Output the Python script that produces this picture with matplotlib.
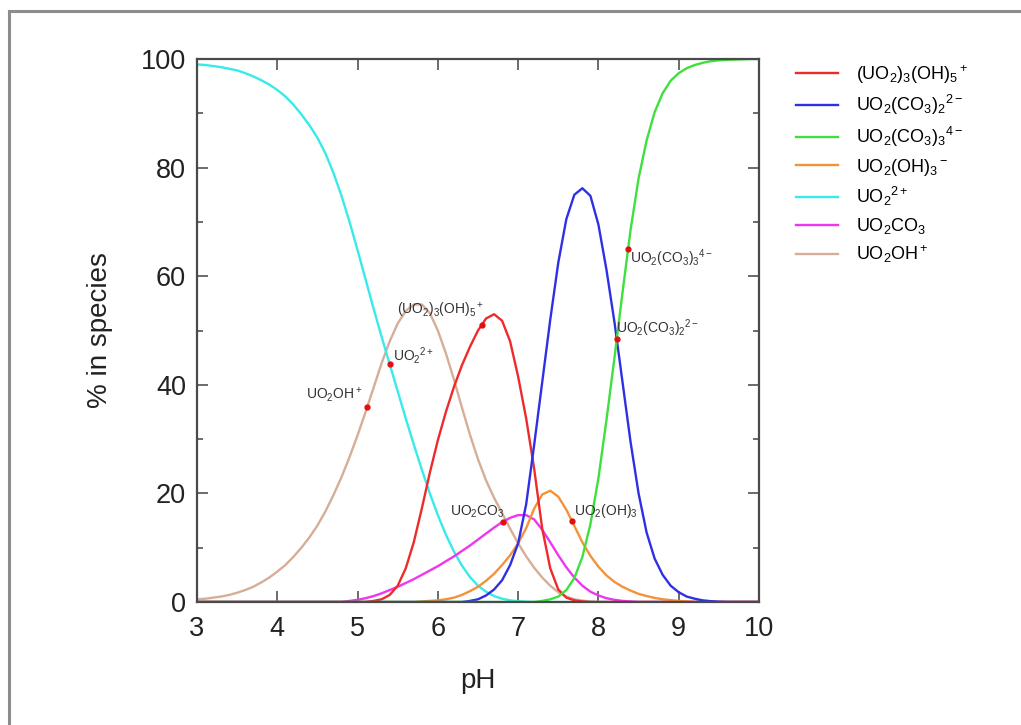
import numpy as np
import matplotlib
matplotlib.use("Agg")
import matplotlib.pyplot as plt
from matplotlib.lines import Line2D
from matplotlib.ticker import MultipleLocator

plt.rcParams['font.family'] = ['Liberation Sans', 'DejaVu Sans']
plt.rcParams['mathtext.fontset'] = 'custom'
plt.rcParams['mathtext.rm'] = 'Liberation Sans'
plt.rcParams['mathtext.it'] = 'Liberation Sans:italic'
plt.rcParams['mathtext.bf'] = 'Liberation Sans:bold'
plt.rcParams['mathtext.default'] = 'regular'

# pH grid 3.0 ... 10.0, step 0.1 (71 points)
ph = np.round(np.linspace(3.0, 10.0, 71), 1)

# % in species at each pH of the grid
trimer = [0] * 22 + [
    0.2, 0.5, 1.3, 3.0, 6.2, 11.0, 17.2, 23.8,             # 5.2-5.9
    29.8, 35.0, 39.6, 43.6, 47.0, 50.0, 52.2, 53.0, 51.8, 48.0,  # 6.0-6.9
    41.5, 33.8, 24.5, 13.5, 6.2, 2.3, 0.8, 0.3, 0.1, 0,    # 7.0-7.9
] + [0] * 21

dicarb = [0] * 34 + [
    0.2, 0.5, 1.2, 2.3, 4.0, 6.8,                          # 6.4-6.9
    10.8, 18.0, 29.0, 40.5, 52.0, 62.5, 70.5, 75.0, 76.2, 74.8,  # 7.0-7.9
    69.5, 61.2, 51.5, 40.5, 29.5, 20.0, 12.8, 8.0, 5.0, 3.0,     # 8.0-8.9
    1.8, 1.0, 0.6, 0.3, 0.15, 0.05, 0, 0, 0, 0,            # 9.0-9.9
    0,
]

tricarb = [0] * 43 + [
    0.2, 0.5, 1.0, 2.2, 4.4, 8.3, 14.3,                    # 7.3-7.9
    22.8, 33.5, 45.0, 57.0, 68.5, 78.0, 85.0, 90.2, 93.7, 96.0,  # 8.0-8.9
    97.4, 98.3, 98.9, 99.3, 99.6, 99.75, 99.85, 99.9, 99.95, 100.0,  # 9.0-9.9
    100.0,
]

trihydroxo = [0] * 28 + [
    0.1, 0.2,                                              # 5.8-5.9
    0.3, 0.5, 0.8, 1.3, 2.0, 2.8, 3.9, 5.2, 6.8, 8.6,      # 6.0-6.9
    10.8, 13.6, 17.2, 19.8, 20.5, 19.4, 17.0, 14.0, 11.0, 8.5,   # 7.0-7.9
    6.5, 4.9, 3.7, 2.8, 2.1, 1.5, 1.1, 0.75, 0.5, 0.35,    # 8.0-8.9
    0.2, 0.1, 0, 0, 0, 0, 0, 0, 0, 0,                      # 9.0-9.9
    0,
]

uranyl = [
    99.0, 98.9, 98.7, 98.5, 98.2, 97.9, 97.4, 96.8, 96.1, 95.3,  # 3.0-3.9
    94.3, 93.1, 91.6, 89.8, 87.8, 85.5, 82.6, 79.0, 74.8, 70.0,  # 4.0-4.9
    64.8, 59.4, 54.0, 48.8, 43.8, 38.8, 33.8, 29.0, 24.4, 20.0,  # 5.0-5.9
    16.0, 12.4, 9.3, 6.7, 4.6, 3.0, 1.9, 1.1, 0.6, 0.3,          # 6.0-6.9
    0.15, 0.05,
] + [0] * 29

carbonato = [0] * 19 + [
    0.2,                                                   # 4.9
    0.4, 0.7, 1.1, 1.6, 2.2, 2.8, 3.5, 4.2, 5.0, 5.8,      # 5.0-5.9
    6.6, 7.5, 8.4, 9.4, 10.4, 11.5, 12.6, 13.7, 14.7, 15.5,  # 6.0-6.9
    16.0, 16.0, 15.2, 13.3, 11.0, 8.6, 6.4, 4.5, 3.0, 1.9,   # 7.0-7.9
    1.2, 0.7, 0.4, 0.2, 0.1,                               # 8.0-8.4
] + [0] * 16

hydroxo = [
    0.5, 0.6, 0.8, 1.0, 1.3, 1.7, 2.2, 2.8, 3.6, 4.5,      # 3.0-3.9
    5.6, 6.8, 8.3, 10.0, 11.9, 14.1, 16.7, 19.7, 23.0, 26.7,  # 4.0-4.9
    30.7, 35.0, 39.5, 44.0, 48.0, 51.3, 53.6, 54.8, 54.8, 53.2,  # 5.0-5.9
    50.0, 45.8, 41.0, 35.8, 30.8, 26.3, 22.4, 19.2, 16.4, 13.5,  # 6.0-6.9
    10.8, 8.4, 6.3, 4.5, 3.0, 1.8, 1.0, 0.5, 0.25, 0.1,    # 7.0-7.9
] + [0] * 21

species_labels = [
    r'(UO$_2$)$_3$(OH)$_5$$^+$',
    r'UO$_2$(CO$_3$)$_2$$^{2-}$',
    r'UO$_2$(CO$_3$)$_3$$^{4-}$',
    r'UO$_2$(OH)$_3$$^-$',
    r'UO$_2$$^{2+}$',
    r'UO$_2$CO$_3$',
    r'UO$_2$OH$^+$',
]
species_values = [trimer, dicarb, tricarb, trihydroxo, uranyl, carbonato, hydroxo]
colors = ['#ee2b2b', '#2f2fe6', '#3ee03e', '#f39238', '#38eaea', '#ee36ee', '#d6ae98']

# marked points on the curves: (series index, pH, label text)
marker_series = [6, 4, 0, 5, 3, 2, 1]
marker_ph = [5.12, 5.40, 6.55, 6.81, 7.67, 8.37, 8.228]
marker_text = [
    r'UO$_2$OH$^+$',
    r'UO$_2$$^{2+}$',
    r'(UO$_2$)$_3$(OH)$_5$$^+$',
    r'UO$_2$CO$_3$',
    r'UO$_2$(OH)$_3$',
    r'UO$_2$(CO$_3$)$_3$$^{4-}$',
    r'UO$_2$(CO$_3$)$_2$$^{2-}$',
]
marker_offset = [(-5, 12), (3, 9), (2, 14), (2, 10), (2, 10), (2, -9), (-1, 11)]
marker_ha = ['right', 'left', 'right', 'right', 'left', 'left', 'left']

fig = plt.figure(figsize=(10.21, 7.25), dpi=100)
ax = fig.add_axes([197 / 1021, 1 - 602 / 725, (759 - 197) / 1021, (602 - 59) / 725])

draw_order = [6, 4, 5, 3, 0, 1, 2]
for i in draw_order:
    ax.plot(ph, species_values[i], color=colors[i], lw=1.7, label=species_labels[i])

for s, x, txt, off, ha in zip(marker_series, marker_ph, marker_text, marker_offset, marker_ha):
    y = np.interp(x, ph, species_values[s])
    ax.plot(x, y, 'o', color='#e01010', ms=3.5, zorder=5)
    ax.annotate(txt, (x, y), xytext=off, textcoords='offset pixels', ha=ha, va='center',
                fontsize=10, color='#333333', zorder=6)

ax.set_xlim(3, 10)
ax.set_ylim(0, 100)
ax.xaxis.set_major_locator(MultipleLocator(1))
ax.yaxis.set_major_locator(MultipleLocator(20))
ax.yaxis.set_minor_locator(MultipleLocator(10))
ax.tick_params(which='both', direction='in', top=True, right=True, width=1.1,
               color='#444444', labelsize=19.5, labelcolor='#222222')
ax.tick_params(which='major', length=8)
ax.tick_params(which='minor', length=4.5)
ax.tick_params(axis='x', pad=10)
ax.tick_params(axis='y', pad=8)
for sp in ax.spines.values():
    sp.set_linewidth(1.6)
    sp.set_color('#4a4a4a')

ax.set_xlabel('pH', fontsize=20, color='#222222', labelpad=19)
ax.set_ylabel('% in species', fontsize=20, color='#222222', labelpad=20)

handles, labels = ax.get_legend_handles_labels()
order = [labels.index(l) for l in species_labels]
ax.legend([handles[k] for k in order], [labels[k] for k in order],
          loc='upper left', bbox_to_anchor=(796 / 1021, 1 - 63 / 725),
          bbox_transform=fig.transFigure, frameon=False, fontsize=13,
          handlelength=2.3, handletextpad=1.0, labelspacing=0.42, borderpad=0,
          borderaxespad=0)

# grey frame around the picture (left and top edges are visible)
fig.add_artist(Line2D([9 / 1021, 9 / 1021], [0, 1 - 10.5 / 725],
                      transform=fig.transFigure, color='#8c8c8c', lw=2.2))
fig.add_artist(Line2D([9 / 1021, 1], [1 - 10.5 / 725, 1 - 10.5 / 725],
                      transform=fig.transFigure, color='#8c8c8c', lw=2.2))

fig.savefig('out.png', dpi=100)
